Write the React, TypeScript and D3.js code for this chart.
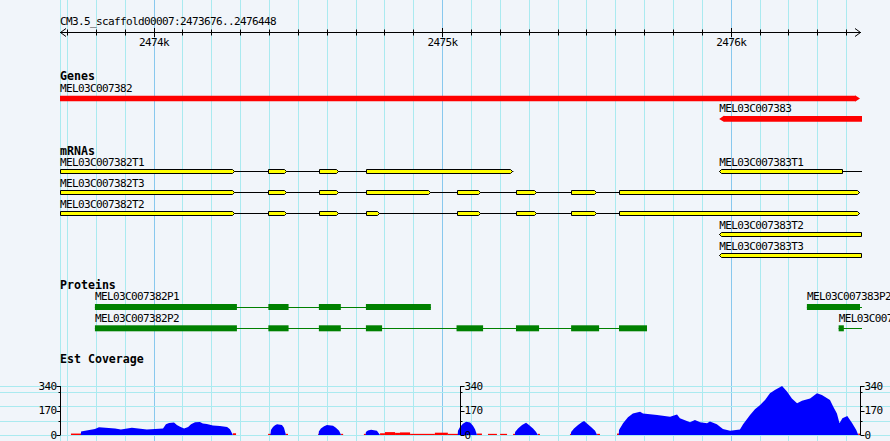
import * as d3 from 'd3';

const W = 890;
const H = 441;

// genomic window shown
const REGION: [number, number] = [2473676, 2476448];
const regionLabel = 'CM3.5_scaffold00007:2473676..2476448';
const majorTicks = [2474000, 2475000, 2476000];
const majorTickLabels = ['2474k', '2475k', '2476k'];

// Genes track
const geneNames = ['MEL03C007382', 'MEL03C007383'];
const geneStrands = [1, -1];
const geneSpans: [number, number][] = [[2473400, 2476448], [2475960, 2476700]];

// mRNAs track
const mrnaNames = [
  'MEL03C007382T1', 'MEL03C007382T3', 'MEL03C007382T2',
  'MEL03C007383T1', 'MEL03C007383T2', 'MEL03C007383T3',
];
const mrnaStrands = [1, 1, 1, -1, -1, -1];
const mrnaSpans: [number, number][] = [
  [2473600, 2475247], [2473600, 2476448], [2473600, 2476448],
  [2475960, 2476700], [2475960, 2476700], [2475960, 2476700],
];
const mrnaExons: [number, number][][] = [
  [[2473600, 2474283], [2474398, 2474464], [2474573, 2474644], [2474736, 2475247]],
  [[2473600, 2474283], [2474398, 2474464], [2474573, 2474644], [2474736, 2474961],
   [2475053, 2475135], [2475257, 2475329], [2475448, 2475537], [2475614, 2476448]],
  [[2473600, 2474283], [2474398, 2474464], [2474573, 2474644], [2474736, 2474785],
   [2475053, 2475135], [2475257, 2475329], [2475448, 2475537], [2475614, 2476448]],
  [[2475960, 2476390]],
  [[2475960, 2476700]],
  [[2475960, 2476700]],
];

// Proteins track
const proteinNames = ['MEL03C007382P1', 'MEL03C007382P2', 'MEL03C007383P2', 'MEL03C007383P1'];
const proteinSpans: [number, number][] = [
  [2473797, 2474961], [2473797, 2475710], [2476264, 2476455], [2476374, 2476700],
];
const proteinBlocks: [number, number][][] = [
  [[2473797, 2474289], [2474398, 2474468], [2474573, 2474649], [2474736, 2474961]],
  [[2473797, 2474289], [2474398, 2474468], [2474573, 2474649], [2474736, 2474792],
   [2475050, 2475142], [2475256, 2475336], [2475447, 2475544], [2475613, 2475710]],
  [[2476264, 2476448]],
  [[2476374, 2476392]],
];

// Est Coverage track
const covMax = 340;
const covTicks = [0, 170, 340];
const covMinorTicks = [100, 200, 300];
const estCoverage: [number, number][] = [
  [2473748, 0], [2473749, 25], [2473763, 30], [2473797, 42], [2473811, 53], [2473867, 45], [2473887, 38],
  [2473925, 50], [2473977, 38], [2474033, 45], [2474043, 75], [2474054, 83], [2474071, 86],
  [2474081, 70], [2474092, 58], [2474106, 45], [2474120, 55], [2474130, 75], [2474144, 88],
  [2474161, 90], [2474171, 80], [2474185, 76], [2474206, 66], [2474230, 62], [2474255, 55],
  [2474265, 40], [2474275, 0],
  [2474405, 0], [2474407, 35], [2474414, 55], [2474421, 68], [2474428, 74], [2474445, 70],
  [2474452, 50], [2474459, 0],
  [2474572, 0], [2474573, 25], [2474580, 45], [2474591, 60], [2474601, 69], [2474622, 65],
  [2474632, 50], [2474643, 30], [2474650, 0],
  [2474735, 0], [2474736, 20], [2474743, 32], [2474754, 36], [2474774, 30], [2474785, 0],
  [2475054, 0], [2475055, 30], [2475062, 55], [2475072, 78], [2475083, 92], [2475097, 86],
  [2475107, 65], [2475114, 40], [2475121, 0],
  [2475252, 0], [2475253, 20], [2475263, 45], [2475277, 70], [2475291, 85], [2475301, 70],
  [2475315, 45], [2475325, 22], [2475332, 0],
  [2475446, 0], [2475447, 20], [2475457, 45], [2475471, 70], [2475485, 90], [2475492, 97],
  [2475502, 80], [2475516, 55], [2475530, 30], [2475537, 0],
  [2475612, 0], [2475613, 35], [2475627, 81], [2475644, 123], [2475661, 150], [2475686, 162],
  [2475696, 150], [2475745, 139], [2475790, 127], [2475814, 143], [2475824, 116], [2475859, 88],
  [2475876, 104], [2475894, 88], [2475918, 81], [2475928, 93], [2475952, 74], [2475973, 42],
  [2475998, 30], [2476032, 39], [2476043, 74], [2476067, 139], [2476084, 178], [2476102, 208],
  [2476119, 243], [2476136, 289], [2476153, 312], [2476178, 340], [2476195, 301], [2476212, 254],
  [2476230, 220], [2476247, 238], [2476275, 254], [2476299, 289], [2476316, 278], [2476344, 243],
  [2476355, 197], [2476368, 150], [2476377, 81], [2476387, 116], [2476404, 132], [2476421, 81],
  [2476435, 35], [2476442, 0],
];
// low-coverage stretches drawn in red: [start, end, value]
const estLowCoverage: [number, number, number][] = [
  [2473714, 2473749, 10], [2474275, 2474286, 12], [2474397, 2474407, 8], [2474459, 2474466, 8],
  [2474570, 2474573, 8], [2474650, 2474657, 8], [2474729, 2474736, 8],
  [2474785, 2474802, 12], [2474802, 2474837, 20], [2474837, 2474854, 15], [2474854, 2474889, 18],
  [2474889, 2474975, 8], [2474975, 2475020, 16], [2475020, 2475055, 8],
  [2475121, 2475138, 10], [2475159, 2475190, 8], [2475201, 2475225, 8],
  [2475246, 2475253, 8], [2475332, 2475339, 8], [2475443, 2475447, 8], [2475537, 2475547, 8],
  [2475606, 2475613, 10], [2476442, 2476451, 10],
];

const MONO = '"DejaVu Sans Mono", monospace';
const CHAR_W = 6;

const x = d3.scaleLinear().domain(REGION).range([60, 860]);
const cx = (v: number) => Math.max(60, Math.min(862, x(v)));
const yCov = d3.scaleLinear().domain([0, covMax]).range([435, 386]);

// greedy row packing like the genome browser does
function packRows(spans: [number, number][], names: string[]) {
  const ends: number[] = [];
  return spans.map((s, i) => {
    const left = cx(s[0]);
    const right = Math.max(cx(s[1]), left + names[i].length * CHAR_W) + 3;
    let r = ends.findIndex(e => e < left);
    if (r < 0) { r = ends.length; ends.push(right); } else ends[r] = right;
    return r;
  });
}

function exonPath(x0: number, x1: number, y0: number, y1: number, tipL: boolean, tipR: boolean, t = 2) {
  const yc = (y0 + y1) / 2;
  const p = [`M${tipL ? x0 + t : x0},${y0}`, `H${tipR ? x1 - t : x1}`];
  if (tipR) p.push(`L${x1},${yc}L${x1 - t},${y1}`); else p.push(`V${y1}`);
  p.push(`H${tipL ? x0 + t : x0}`);
  if (tipL) p.push(`L${x0},${yc}`);
  p.push('Z');
  return p.join('');
}

export default function App() {
  const gridBp = d3.range(Math.ceil(REGION[0] / 100) * 100, REGION[1], 100);
  const geneRows = packRows(geneSpans, geneNames);
  const mrnaRows = packRows(mrnaSpans, mrnaNames);
  const protRows = packRows(proteinSpans, proteinNames);

  const area = d3.area<[number, number]>()
    .x(d => x(d[0]))
    .y0(yCov(0))
    .y1(d => yCov(d[1]));

  const covAxisX = [60, 460, 860];

  return (
    <svg width={W} height={H} style={{ position: 'absolute', left: 0, top: 0, display: 'block' }}
      fontFamily={MONO}>
      <rect width={W} height={H} fill="#f1f5fa" />

      {/* vertical grid */}
      <line x1={60.5} x2={60.5} y1={0} y2={H} stroke="#aaeaf0" />
      {gridBp.map(b => (
        <line key={b} x1={Math.round(x(b)) + 0.5} x2={Math.round(x(b)) + 0.5} y1={0} y2={H}
          stroke={b % 1000 === 0 ? '#88c8ee' : '#aaeaf0'} />
      ))}
      {/* coverage horizontal grid */}
      {[0, ...covMinorTicks, covMax].map(v => (
        <line key={v} x1={0} x2={W} y1={Math.round(yCov(v)) + 0.5} y2={Math.round(yCov(v)) + 0.5}
          stroke="#aaeaf0" />
      ))}

      {/* ruler */}
      <text x={60} y={21.5} fontSize={11} letterSpacing={-0.62} dominantBaseline="central">{regionLabel}</text>
      <line x1={60} x2={861} y1={32.5} y2={32.5} stroke="#000" />
      <path d="M66,28.5L60.5,32.5L66,36.5" fill="none" stroke="#000" />
      <path d="M855,28.5L860.5,32.5L855,36.5" fill="none" stroke="#000" />
      {gridBp.map(b => (
        <line key={b} x1={Math.round(x(b)) + 0.5} x2={Math.round(x(b)) + 0.5}
          y1={b % 1000 === 0 ? 28 : 29.5} y2={b % 1000 === 0 ? 37 : 35.5} stroke="#000" />
      ))}
      {majorTicks.map((b, i) => (
        <text key={b} x={x(b) + 0.5} y={42.5} fontSize={11} letterSpacing={-0.62} textAnchor="middle"
          dominantBaseline="central">{majorTickLabels[i]}</text>
      ))}

      {/* Genes */}
      <text x={60} y={76} fontSize={11.6} fontWeight="bold" dominantBaseline="central">Genes</text>
      {geneNames.map((n, i) => {
        const top = 95.7 + geneRows[i] * 20.4;
        const x0 = cx(geneSpans[i][0]);
        const x1 = cx(geneSpans[i][1]);
        const yc = top + 2.8;
        const d = geneStrands[i] > 0
          ? `M${x0},${top}H${x1 - 5}L${x1 - 5},${top - 0.5}L${x1},${yc}L${x1 - 5},${top + 6}V${top + 5.6}H${x0}Z`
          : `M${x0},${yc}L${x0 + 5},${top - 0.5}V${top}H${x1}V${top + 5.6}H${x0 + 5}V${top + 6}Z`;
        return (
          <g key={n}>
            <text x={x0} y={top - 7.3} fontSize={11} letterSpacing={-0.62} dominantBaseline="central">{n}</text>
            <path d={d} fill="#ff0000" />
          </g>
        );
      })}

      {/* mRNAs */}
      <text x={60} y={150.7} fontSize={11.6} fontWeight="bold" dominantBaseline="central">mRNAs</text>
      {mrnaNames.map((n, i) => {
        const top = 169.5 + mrnaRows[i] * 21;
        const y0 = top, y1 = top + 4;
        const yc = top + 2;
        const s = mrnaStrands[i];
        return (
          <g key={n}>
            <text x={cx(mrnaSpans[i][0])} y={top - 6.8} fontSize={11} letterSpacing={-0.62}
              dominantBaseline="central">{n}</text>
            <line x1={cx(mrnaSpans[i][0])} x2={cx(mrnaSpans[i][1])} y1={yc} y2={yc} stroke="#000" />
            {mrnaExons[i].map((e, k) => {
              const x0 = cx(e[0]);
              const x1 = cx(e[1]);
              const tipR = s > 0 && x(e[1]) <= 862;
              const tipL = s < 0 && x(e[0]) >= 60;
              return (
                <path key={k} d={exonPath(Math.round(x0) + 0.5, Math.round(x1) - 0.5, y0, y1, tipL, tipR)}
                  fill="#ffff00" stroke="#000" />
              );
            })}
          </g>
        );
      })}

      {/* Proteins */}
      <text x={60} y={285.3} fontSize={11.6} fontWeight="bold" dominantBaseline="central">Proteins</text>
      {proteinNames.map((n, i) => {
        const top = 304 + protRows[i] * 21.3;
        const yc = Math.round(top + 3) + 0.5;
        return (
          <g key={n}>
            <text x={cx(proteinSpans[i][0])} y={top - 7.3} fontSize={11} letterSpacing={-0.62}
              dominantBaseline="central">{n}</text>
            <line x1={cx(proteinSpans[i][0])} x2={cx(proteinSpans[i][1])} y1={yc} y2={yc} stroke="#008000" />
            {proteinBlocks[i].map((b, k) => (
              <rect key={k} x={cx(b[0])} y={top} width={cx(b[1]) - cx(b[0])} height={6} fill="#008000" />
            ))}
          </g>
        );
      })}

      {/* Est Coverage */}
      <text x={60} y={359.3} fontSize={11.6} fontWeight="bold" dominantBaseline="central">Est Coverage</text>
      {estLowCoverage.map((r, i) => (
        <rect key={i} x={x(r[0])} y={yCov(r[2])} width={x(r[1]) - x(r[0])} height={yCov(0) - yCov(r[2])}
          fill="#ff0000" />
      ))}
      <path d={area(estCoverage) ?? ''} fill="#0000ff" />

      {covAxisX.map((ax, j) => {
        const dir = j === 0 ? -1 : 1;
        const X = ax + 0.5;
        return (
          <g key={ax}>
            <line x1={X} x2={X} y1={yCov(covMax)} y2={yCov(0)} stroke="#000" />
            {covTicks.map(v => (
              <g key={v}>
                <line x1={X} x2={X + dir * 4} y1={Math.round(yCov(v)) + 0.5} y2={Math.round(yCov(v)) + 0.5}
                  stroke="#000" />
                <text x={X + dir * 4} y={yCov(v)} fontSize={11} letterSpacing={-0.62}
                  textAnchor={dir < 0 ? 'end' : 'start'} dominantBaseline="central">{v}</text>
              </g>
            ))}
            {covMinorTicks.map(v => (
              <line key={v} x1={X} x2={X + dir * 2} y1={Math.round(yCov(v)) + 0.5} y2={Math.round(yCov(v)) + 0.5}
                stroke="#000" />
            ))}
          </g>
        );
      })}
    </svg>
  );
}
